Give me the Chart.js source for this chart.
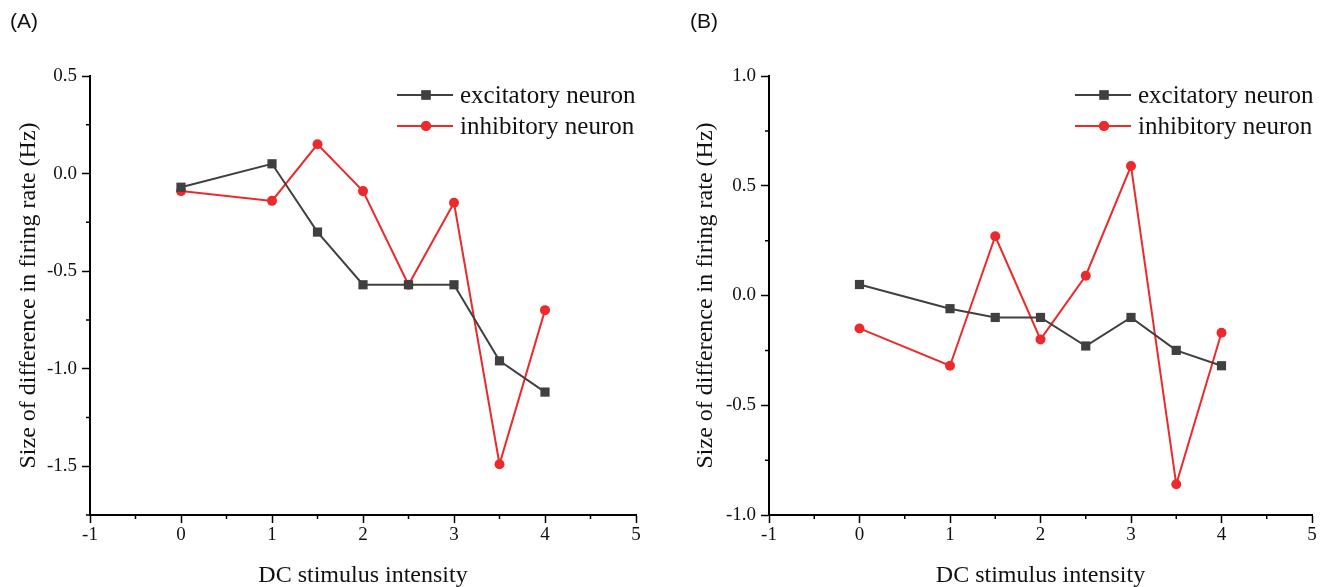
<!DOCTYPE html>
<html>
<head>
<meta charset="utf-8">
<script src="https://cdn.jsdelivr.net/npm/chart.js@4"></script>
<style>
  html, body { margin: 0; padding: 0; background: #fff; }
  body { width: 1328px; height: 587px; position: relative; overflow: hidden; }
  .panel { position: absolute; top: 0; width: 664px; height: 587px; }
  .tag { position: absolute; top: 9px; font: 21px "Liberation Sans", Arial, sans-serif; color: #111; }
</style>
</head>
<body>
<div class="panel" style="left:0"><canvas id="chartA" width="664" height="587"></canvas></div>
<div class="panel" style="left:664px"><canvas id="chartB" width="664" height="587"></canvas></div>
<div class="tag" style="left:10px">(A)</div>
<div class="tag" style="left:690px">(B)</div>
<script>
// datos
const intensity = [0, 1, 1.5, 2, 2.5, 3, 3.5, 4];
const seriesNames = ['excitatory neuron', 'inhibitory neuron'];
const excA = [-0.07, 0.05, -0.30, -0.57, -0.57, -0.57, -0.96, -1.12];
const inhA = [-0.09, -0.14, 0.15, -0.09, -0.57, -0.15, -1.49, -0.70];
const excB = [0.05, -0.06, -0.10, -0.10, -0.23, -0.10, -0.25, -0.32];
const inhB = [-0.15, -0.32, 0.27, -0.20, 0.09, 0.59, -0.86, -0.17];
const xTicks = [-1, 0, 1, 2, 3, 4, 5];

const serif = '"Liberation Serif", "Times New Roman", serif';
const excColor = '#404040';
const inhColor = '#ec2a2c';

const toPoints = ys => intensity.map((x, i) => ({ x: x, y: ys[i] }));
const isMajorY = v => Math.abs(v * 2 - Math.round(v * 2)) < 1e-9;

// leyenda dibujada a mano dentro del gráfico
const innerLegend = {
  id: 'innerLegend',
  afterDraw(chart, args, opts) {
    const ctx = chart.ctx;
    const x0 = chart.chartArea.right + opts.offsetX;
    ctx.save();
    chart.data.datasets.forEach((ds, i) => {
      const y = chart.chartArea.top + 19 + i * 31;
      ctx.strokeStyle = ds.borderColor;
      ctx.lineWidth = 2;
      ctx.beginPath();
      ctx.moveTo(x0, y);
      ctx.lineTo(x0 + 56, y);
      ctx.stroke();
      ctx.fillStyle = ds.backgroundColor;
      Chart.helpers.drawPoint(ctx, { pointStyle: ds.pointStyle, radius: ds.pointRadius, rotation: 0, borderWidth: 0 }, x0 + 29, y);
      ctx.fill();
      ctx.fillStyle = '#111';
      ctx.font = '25px ' + serif;
      ctx.textBaseline = 'middle';
      ctx.fillText(ds.label, x0 + 63, y + 1);
    });
    ctx.restore();
  }
};

// ticks menores (más cortos) en las posiciones sin etiqueta
const minorTicks = {
  id: 'minorTicks',
  afterDraw(chart) {
    const ctx = chart.ctx;
    const xs = chart.scales.x, ys = chart.scales.y;
    ctx.save();
    ctx.strokeStyle = '#000';
    ctx.lineWidth = 1.5;
    ctx.beginPath();
    xs.ticks.forEach(t => {
      if (xTicks.includes(t.value)) return;
      const px = xs.getPixelForValue(t.value);
      ctx.moveTo(px, xs.top);
      ctx.lineTo(px, xs.top + 4);
    });
    ys.ticks.forEach(t => {
      if (isMajorY(t.value)) return;
      const py = ys.getPixelForValue(t.value);
      ctx.moveTo(ys.right, py);
      ctx.lineTo(ys.right - 4, py);
    });
    ctx.stroke();
    ctx.restore();
  }
};

function buildChart(id, exc, inh, yMin, yMax, yWidth, titlePad, padRight, legendOffset) {
  const gridBase = { drawOnChartArea: false, drawTicks: true, tickLength: 8, tickWidth: 1.5 };
  return new Chart(document.getElementById(id), {
    type: 'line',
    data: {
      datasets: [{
        label: seriesNames[0],
        data: toPoints(exc),
        borderColor: excColor,
        backgroundColor: excColor,
        borderWidth: 2,
        pointStyle: 'rect',
        pointRadius: 6.5,
        pointBorderWidth: 0
      }, {
        label: seriesNames[1],
        data: toPoints(inh),
        borderColor: inhColor,
        backgroundColor: inhColor,
        borderWidth: 2,
        pointStyle: 'circle',
        pointRadius: 5,
        pointBorderWidth: 0
      }]
    },
    options: {
      responsive: false,
      animation: false,
      devicePixelRatio: 1,
      layout: { padding: { top: 76, right: padRight, bottom: 0, left: 0 } },
      plugins: {
        legend: { display: false },
        tooltip: { enabled: false },
        innerLegend: { offsetX: legendOffset }
      },
      scales: {
        x: {
          type: 'linear',
          min: -1, max: 5,
          border: { display: true, color: '#000', width: 2 },
          grid: { ...gridBase, tickColor: c => xTicks.includes(c.tick.value) ? '#000' : 'rgba(0,0,0,0)' },
          ticks: {
            stepSize: 0.5,
            color: '#111',
            padding: 1,
            font: { family: serif, size: 19 },
            callback: v => xTicks.includes(v) ? String(v) : ''
          },
          title: {
            display: true,
            text: 'DC stimulus intensity',
            color: '#111',
            font: { family: serif, size: 24 },
            padding: { top: 0, bottom: -3 }
          },
          afterFit: s => { s.height = 72; }
        },
        y: {
          type: 'linear',
          min: yMin, max: yMax,
          border: { display: true, color: '#000', width: 2 },
          grid: { ...gridBase, tickColor: c => isMajorY(c.tick.value) ? '#000' : 'rgba(0,0,0,0)' },
          ticks: {
            stepSize: 0.25,
            color: '#111',
            padding: 5,
            font: { family: serif, size: 19 },
            callback: v => isMajorY(v) ? v.toFixed(1) : ''
          },
          title: {
            display: true,
            text: 'Size of difference in firing rate (Hz)',
            color: '#111',
            font: { family: serif, size: 24 },
            padding: { top: titlePad, bottom: 0 }
          },
          afterFit: s => { s.width = yWidth; }
        }
      }
    },
    plugins: [innerLegend, minorTicks]
  });
}

buildChart('chartA', excA, inhA, -1.75, 0.5, 90, 14, 28, -239);
buildChart('chartB', excB, inhB, -1.0, 1.0, 105, 27, 16, -237);
</script>
</body>
</html>
